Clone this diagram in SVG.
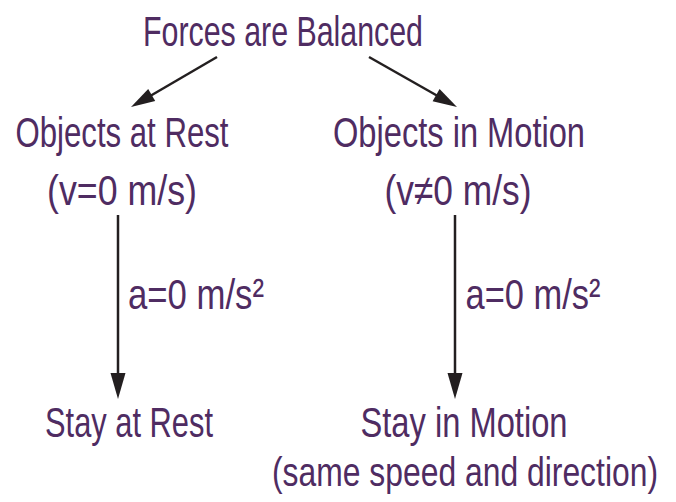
<svg xmlns="http://www.w3.org/2000/svg" width="676" height="502" viewBox="0 0 676 502">
<defs>
<style>
text{font-family:"Liberation Sans","DejaVu Sans",sans-serif;font-size:43px;fill:#4f2c62;text-anchor:middle;}
.c line{stroke:#231f20;stroke-width:2.5;}
.c path{fill:#231f20;}
</style>
</defs>
<rect width="676" height="502" fill="#fff"/>
<g class="c" id="connectors">
<line x1="217" y1="57" x2="145" y2="99"/>
<path d="M131,107 L148.2,89 L155.2,101 z"/>
<line x1="369" y1="57" x2="443" y2="99"/>
<path d="M457,107 L432.6,101.2 L439.6,89 z"/>
<line x1="118" y1="215" x2="118" y2="380"/>
<path d="M118,399 L110.5,373 L125.5,373 z"/>
<line x1="455" y1="215" x2="455" y2="380"/>
<path d="M455,399 L447.5,373 L462.5,373 z"/>
</g>
<g id="n_forces"><text x="283" y="46" textLength="280" lengthAdjust="spacingAndGlyphs">Forces are Balanced</text></g>
<g id="n_rest"><text x="122" y="147" textLength="213" lengthAdjust="spacingAndGlyphs">Objects at Rest</text>
<text x="122" y="205" textLength="150" lengthAdjust="spacingAndGlyphs">(v=0 m/s)</text></g>
<g id="n_motion"><text x="459" y="147" textLength="252" lengthAdjust="spacingAndGlyphs">Objects in Motion</text>
<text x="458" y="205" textLength="147" lengthAdjust="spacingAndGlyphs">(v≠0 m/s)</text></g>
<g id="l_left"><text x="196" y="309" textLength="136" lengthAdjust="spacingAndGlyphs">a=0 m/s²</text></g>
<g id="l_right"><text x="533" y="309" textLength="135" lengthAdjust="spacingAndGlyphs">a=0 m/s²</text></g>
<g id="n_stayrest"><text x="129" y="437" textLength="168" lengthAdjust="spacingAndGlyphs">Stay at Rest</text></g>
<g id="n_staymotion"><text x="464" y="437" textLength="207" lengthAdjust="spacingAndGlyphs">Stay in Motion</text>
<text x="465" y="486" style="font-size:40px" textLength="386" lengthAdjust="spacingAndGlyphs">(same speed and direction)</text></g>
</svg>
